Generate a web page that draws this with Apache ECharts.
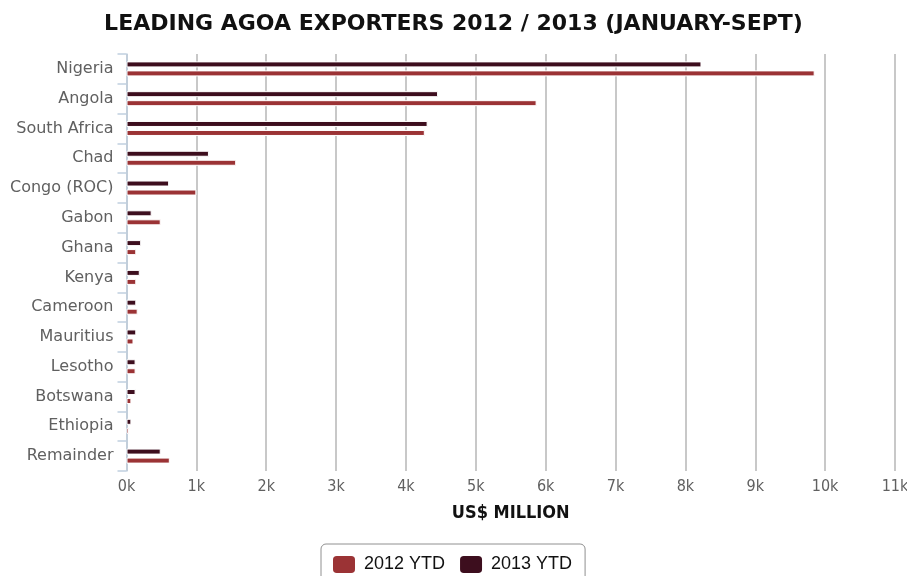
<!DOCTYPE html>
<html>
<head>
<meta charset="utf-8">
<title>Leading AGOA Exporters 2012 / 2013</title>
<script src="https://cdn.jsdelivr.net/npm/echarts@6/dist/echarts.min.js"></script>
<style>
  html, body { margin: 0; padding: 0; background: #fff; }
  #chart { width: 907px; height: 576px; }
</style>
</head>
<body>
<div id="chart"></div>
<script>
// Exporting countries, top to bottom
const countries = ['Nigeria', 'Angola', 'South Africa', 'Chad', 'Congo (ROC)', 'Gabon', 'Ghana',
  'Kenya', 'Cameroon', 'Mauritius', 'Lesotho', 'Botswana', 'Ethiopia', 'Remainder'];

// Exports, US$ million, January-September
const ytd2012 = [9850, 5870, 4270, 1570, 1000, 490, 140, 140, 160, 100, 130, 70, 35, 620];
const ytd2013 = [8230, 4460, 4310, 1180, 610, 360, 210, 190, 140, 140, 130, 130, 70, 490];

// Value axis ticks
const xMin = 0;
const xMax = 11000;
const xStep = 1000;

const chart = echarts.init(document.getElementById('chart'), null, { renderer: 'canvas' });

const barStyle = (color) => ({
  color: color,
  borderColor: '#ffffff',
  borderWidth: 1
});

chart.setOption({
  animation: false,
  backgroundColor: '#ffffff',
  title: {
    text: 'LEADING AGOA EXPORTERS 2012 / 2013 (JANUARY-SEPT)',
    left: 'center',
    top: 8,
    textStyle: {
      fontFamily: 'DejaVu Sans, sans-serif',
      fontWeight: 'bold',
      fontSize: 22,
      color: '#111111'
    }
  },
  legend: {
    data: ['2012 YTD', '2013 YTD'],
    left: 321,
    top: 544,
    orient: 'horizontal',
    icon: 'roundRect',
    itemWidth: 24,
    itemHeight: 19,
    itemGap: 13,
    padding: [10, 13, 10, 10],
    borderColor: '#909090',
    borderWidth: 1,
    borderRadius: 5,
    textStyle: {
      fontFamily: 'Liberation Sans, Arial, sans-serif',
      fontSize: 18,
      color: '#111111',
      padding: [0, 0, 0, 3]
    }
  },
  grid: {
    left: 126.5,
    right: 12,
    top: 54,
    bottom: 105,
    containLabel: false,
    outerBoundsMode: 'none'
  },
  xAxis: {
    type: 'value',
    min: xMin,
    max: xMax,
    interval: xStep,
    name: 'US$ MILLION',
    nameLocation: 'middle',
    nameGap: 33,
    nameTextStyle: {
      fontFamily: 'DejaVu Sans Condensed, DejaVu Sans, sans-serif',
      fontWeight: 'bold',
      fontSize: 18,
      color: '#111111'
    },
    axisLine: { show: false },
    axisTick: { show: false },
    axisLabel: {
      margin: 8,
      fontFamily: 'DejaVu Sans Condensed, DejaVu Sans, sans-serif',
      fontSize: 16,
      color: '#606060',
      formatter: (v) => (v / 1000) + 'k'
    },
    splitLine: {
      show: true,
      lineStyle: { color: '#c8c8c8', width: 2 }
    }
  },
  yAxis: {
    type: 'category',
    data: countries,
    inverse: true,
    axisLine: { show: true, lineStyle: { color: '#c0d0e0', width: 1.5 } },
    axisTick: { show: true, length: 9, lineStyle: { color: '#c0d0e0', width: 1.5 } },
    axisLabel: {
      margin: 13,
      fontFamily: 'DejaVu Sans, sans-serif',
      fontSize: 16,
      color: '#606060'
    },
    splitLine: { show: false }
  },
  series: [
    {
      name: '2013 YTD',
      type: 'bar',
      data: ytd2013,
      barWidth: 6,
      barGap: '50%',
      itemStyle: barStyle('#3d0e1e')
    },
    {
      name: '2012 YTD',
      type: 'bar',
      data: ytd2012,
      barWidth: 6,
      barGap: '50%',
      itemStyle: barStyle('#9b3335')
    }
  ]
});
</script>
</body>
</html>
